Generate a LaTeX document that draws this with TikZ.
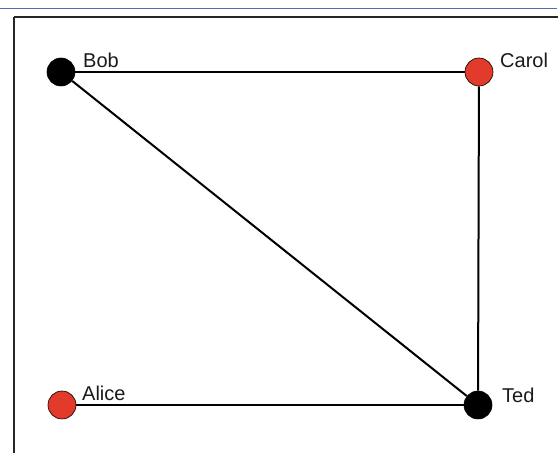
\documentclass[tikz,border=0pt]{standalone}
\usepackage{fontspec}
\setmainfont{Liberation Sans}
\usepackage{xcolor}
\usepackage{tikz}
\usetikzlibrary{calc}
\definecolor{vred}{HTML}{E33B2B}
\definecolor{topline}{HTML}{4A6FB5}
\definecolor{ink}{HTML}{1A1A1A}

\begin{document}
\begin{tikzpicture}[
        x=1pt,y=1pt,
        font=\fontsize{20}{22}\selectfont,
        vert/.style={circle,draw=black,line width=0.6pt,minimum size=28pt,inner sep=0pt},
        blackv/.style={vert,fill=black},
        redv/.style={vert,fill=vred},
        link/.style={draw=black,line width=2pt},
        vname/.style={anchor=base west,inner sep=0pt,text=ink}
      ]
      \useasboundingbox (0,0) rectangle (558,453);

      % window frame
      \draw[topline,line width=1pt] (0,444) -- (557,444);
      \draw[black!85,line width=2.5pt] (14,436) -- (558,436);
      \draw[black!85,line width=2pt] (14,436) -- (14,0);

      % the vertices
      \node[blackv] (bob) at (61,381) {};
      \node[redv] (carol) at (479,381) {};
      \node[redv] (alice) at (62,48) {};
      \node[blackv] (ted) at (478,48) {};

      % the edges
      \draw[link] (bob) -- (carol);
      \draw[link] (carol) -- (ted);
      \draw[link] (bob) -- (ted);
      \draw[link] (alice) -- (ted);

      % names
      \node[vname] (bobname) at (83,385) {Bob};
      \node[vname] (carolname) at (500,385) {Carol};
      \node[vname] (alicename) at (82,52) {Alice};
      \node[vname] (tedname) at (502,50) {Ted};
    \end{tikzpicture}
\end{document}
